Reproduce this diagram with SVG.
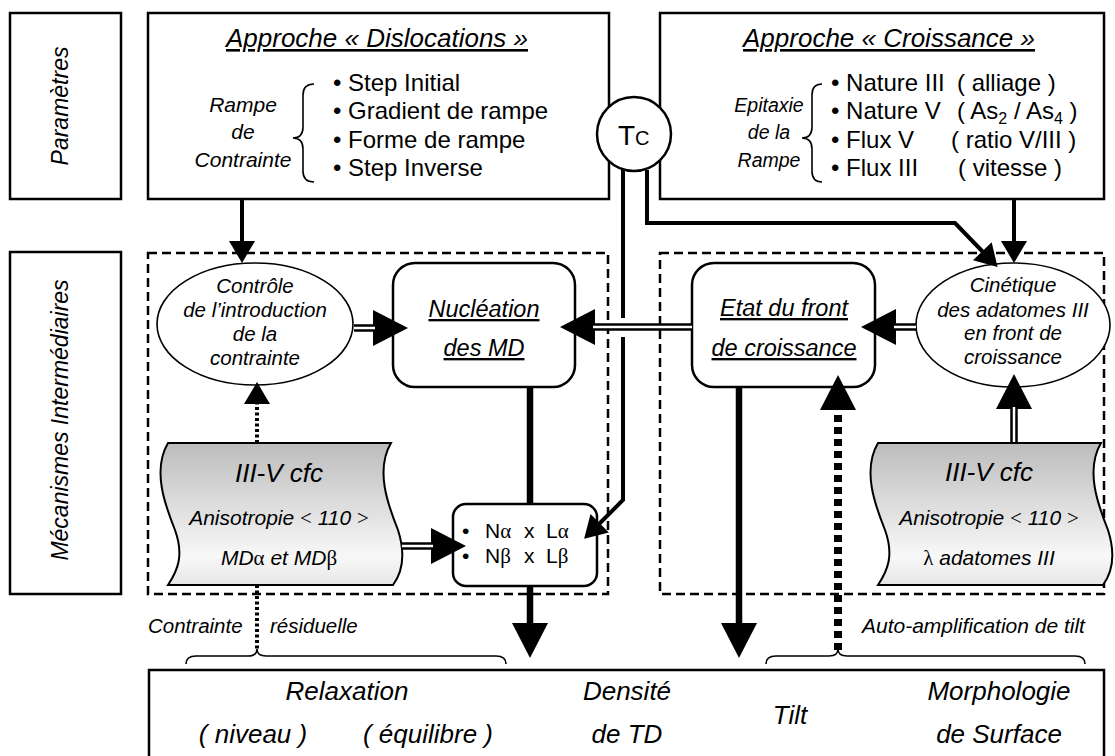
<svg xmlns="http://www.w3.org/2000/svg" width="1115" height="756" viewBox="0 0 1115 756">
<style>
text{font-family:"Liberation Sans",Arial,sans-serif;fill:#000}
.it{font-style:italic}
.box{fill:#fff;stroke:#000;stroke-width:2.5}
.dash{fill:none;stroke:#000;stroke-width:2.5;stroke-dasharray:9 5}
.ell{fill:#fff;stroke:#000;stroke-width:1.6}
.rbox{fill:#fff;stroke:#000;stroke-width:2.5}
.tape{fill:url(#gr);stroke:#000;stroke-width:2}
.brace{fill:none;stroke:#000;stroke-width:1.6}
.ln{fill:none;stroke:#000;stroke-width:4}
.thick{fill:none;stroke:#000;stroke-width:6.5}
.dbk{fill:none;stroke:#000;stroke-width:7.5}
.dwh{fill:none;stroke:#fff;stroke-width:2.5}
.dot1{fill:none;stroke:#000;stroke-width:4;stroke-dasharray:3 2.5}
.dot2{fill:none;stroke:#000;stroke-width:8;stroke-dasharray:7 5}
.gk{font-family:"Liberation Serif","Times New Roman",serif;font-style:normal}
</style>
<defs>
<linearGradient id="gr" x1="0" y1="0" x2="0" y2="1">
<stop offset="0" stop-color="#bcbcbc"/>
<stop offset="0.8" stop-color="#f8f8f8"/>
<stop offset="1" stop-color="#e6e6e6"/>
</linearGradient>
<marker id="hs" markerUnits="userSpaceOnUse" markerWidth="22" markerHeight="26" viewBox="0 0 22 26" refX="1" refY="13" orient="auto" overflow="visible"><path d="M0,0 L22,13 L0,26 z" fill="#000"/></marker>
<marker id="hb" markerUnits="userSpaceOnUse" markerWidth="35" markerHeight="36" viewBox="0 0 35 36" refX="1" refY="18" orient="auto" overflow="visible"><path d="M0,0 L35,18 L0,36 z" fill="#000"/></marker>
</defs>
<rect width="1115" height="756" fill="#fff"/>

<g id="label-parametres">
<rect class="box" x="10" y="13" width="111" height="186"/>
<text class="it" font-size="23" text-anchor="middle" transform="translate(68,106) rotate(-90)">Paramètres</text>
</g>
<g id="label-mecanismes">
<rect class="box" x="10" y="252" width="111" height="342"/>
<text class="it" font-size="23" text-anchor="middle" transform="translate(68,420) rotate(-90)">Mécanismes  Intermédiaires</text>
</g>

<g id="approche-dislocations">
<rect class="box" x="148" y="13" width="461" height="186"/>
<text class="it" font-size="26" x="377" y="47" text-anchor="middle" text-decoration="underline">Approche « Dislocations »</text>
<text class="it" font-size="21" text-anchor="middle"><tspan x="243" y="112">Rampe</tspan><tspan x="243" y="139">de</tspan><tspan x="243" y="167">Contrainte</tspan></text>
<path class="brace" d="M314,84 Q303,84 303,95 L303,127 Q303,138 293,138 Q303,138 303,149 L303,171 Q303,182 314,182"/>
<text font-size="24"><tspan x="333" y="91">• Step Initial</tspan><tspan x="333" y="119">• Gradient de rampe</tspan><tspan x="333" y="148">• Forme de rampe</tspan><tspan x="333" y="176">• Step Inverse</tspan></text>
</g>

<g id="approche-croissance">
<rect class="box" x="660" y="13" width="444" height="186"/>
<text class="it" font-size="26" x="889" y="47" text-anchor="middle" text-decoration="underline">Approche « Croissance »</text>
<text class="it" font-size="19.5" text-anchor="middle"><tspan x="769" y="112">Epitaxie</tspan><tspan x="769" y="139">de la</tspan><tspan x="769" y="167">Rampe</tspan></text>
<path class="brace" d="M822,84 Q812,84 812,95 L812,127 Q812,138 802,138 Q812,138 812,149 L812,171 Q812,182 822,182"/>
<text font-size="24"><tspan x="831" y="91">• Nature III</tspan><tspan x="831" y="119">• Nature V</tspan><tspan x="831" y="148">• Flux V</tspan><tspan x="831" y="176">• Flux III</tspan></text>
<text font-size="24"><tspan x="957" y="91">( alliage )</tspan></text>
<text font-size="24" x="957" y="119">( As<tspan font-size="16" dy="5">2</tspan><tspan dy="-5"> / As</tspan><tspan font-size="16" dy="5">4</tspan><tspan dy="-5"> )</tspan></text>
<text font-size="24"><tspan x="951" y="148">( ratio V/III )</tspan><tspan x="958" y="176">( vitesse )</tspan></text>
</g>

<g id="tc">
<circle cx="634" cy="134" r="37" fill="#fff" stroke="#000" stroke-width="2.5"/>
<text font-size="28" x="618" y="145">T<tspan font-size="20">C</tspan></text>
</g>

<g id="groupes">
<rect class="dash" x="148" y="253" width="460" height="341"/>
<rect class="dash" x="660" y="253" width="444" height="341"/>
</g>

<g id="controle">
<ellipse class="ell" cx="255" cy="324" rx="98" ry="61"/>
<text class="it" font-size="20.5" text-anchor="middle"><tspan x="255" y="293">Contrôle</tspan><tspan x="255" y="317">de l’introduction</tspan><tspan x="255" y="341">de la</tspan><tspan x="255" y="365">contrainte</tspan></text>
</g>

<g id="nucleation">
<rect class="rbox" x="393" y="263" width="182" height="124" rx="22"/>
<text class="it" font-size="23.5" text-anchor="middle" text-decoration="underline"><tspan x="484" y="317">Nucléation</tspan><tspan x="484" y="356">des MD</tspan></text>
</g>

<g id="etat-front">
<rect class="rbox" x="692" y="263" width="183" height="124" rx="22"/>
<text class="it" font-size="23.5" text-anchor="middle" text-decoration="underline"><tspan x="784" y="316">Etat du front</tspan><tspan x="784" y="356">de croissance</tspan></text>
</g>

<g id="cinetique">
<ellipse class="ell" cx="1013" cy="325" rx="97" ry="62"/>
<text class="it" font-size="20.5" text-anchor="middle"><tspan x="1013" y="292">Cinétique</tspan><tspan x="1013" y="317">des adatomes III</tspan><tspan x="1013" y="340">en front de</tspan><tspan x="1013" y="364">croissance</tspan></text>
</g>

<g id="cfc-gauche">
<path class="tape" d="M168,443 L391,443 C375,470 388,505 398,530 C405,552 404,570 393,585 L168,585 C178,570 184,555 175,530 C165,505 152,470 168,443 Z"/>
<text class="it" font-size="26" x="279" y="482" text-anchor="middle">III-V cfc</text>
<text class="it" font-size="21" x="279" y="525" text-anchor="middle">Anisotropie <tspan class="gk">&lt;</tspan> 110 <tspan class="gk">&gt;</tspan></text>
<text class="it" font-size="21" x="279" y="565" text-anchor="middle">MD<tspan class="gk">α</tspan> et MD<tspan class="gk">β</tspan></text>
</g>

<g id="cfc-droite">
<path class="tape" d="M878,443 L1101,443 C1085,470 1098,505 1108,530 C1115,552 1114,570 1103,585 L878,585 C888,570 894,555 885,530 C875,505 862,470 878,443 Z"/>
<text class="it" font-size="26" x="989" y="481" text-anchor="middle">III-V cfc</text>
<text class="it" font-size="21" x="989" y="525" text-anchor="middle">Anisotropie <tspan class="gk">&lt;</tspan> 110 <tspan class="gk">&gt;</tspan></text>
<text class="it" font-size="21" x="989" y="565" text-anchor="middle"><tspan class="gk">λ</tspan> adatomes III</text>
</g>

<g id="n-l">
<rect class="rbox" x="453" y="504" width="144" height="82" rx="13"/>
<text font-size="21" x="462" y="538">•<tspan x="485">N</tspan><tspan class="gk">α</tspan><tspan x="524">x</tspan><tspan x="546">L</tspan><tspan class="gk">α</tspan></text>
<text font-size="21" x="462" y="563">•<tspan x="485">N</tspan><tspan class="gk">β</tspan><tspan x="524">x</tspan><tspan x="546">L</tspan><tspan class="gk">β</tspan></text>
</g>

<g id="resultats">
<rect class="box" x="149" y="670" width="955" height="92"/>
<text class="it" font-size="26" text-anchor="middle"><tspan x="347" y="700">Relaxation</tspan><tspan x="253" y="743">( niveau )</tspan><tspan x="428" y="743">( équilibre )</tspan><tspan x="627" y="700">Densité</tspan><tspan x="627" y="743">de TD</tspan><tspan x="790" y="724">Tilt</tspan><tspan x="999" y="700">Morphologie</tspan><tspan x="999" y="743">de Surface</tspan></text>
</g>

<g id="annotations">
<text class="it" font-size="20.5" x="148" y="633">Contrainte</text>
<text class="it" font-size="20.5" x="270" y="633">résiduelle</text>
<text class="it" font-size="21" x="862" y="633">Auto-amplification de tilt</text>
<path class="brace" d="M186,664 Q186,656 196,656 L248,656 Q257,656 257,649 Q257,656 266,656 L496,656 Q506,656 506,664"/>
<path class="brace" d="M766,664 Q766,656 776,656 L829,656 Q838,656 838,649 Q838,656 847,656 L1075,656 Q1085,656 1085,664"/>
</g>

<g id="connecteurs">
<path class="ln" d="M242,199 L242,242" marker-end="url(#hs)"/>
<path class="ln" d="M1014,199 L1014,242" marker-end="url(#hs)"/>
<path class="ln" d="M647,170 L647,223 L955,223 L983,252" marker-end="url(#hs)"/>
<path class="ln" d="M623,170 L623,318 M623,337 L623,500 L599,524" marker-end="url(#hs)"/>
<path class="thick" d="M530,387 L530,504"/>
<path class="thick" d="M530,586 L530,624" marker-end="url(#hb)"/>
<path class="thick" d="M739,387 L739,624" marker-end="url(#hb)"/>
<path class="dot1" d="M257,585 L257,650"/>
<path class="dot1" d="M257,443 L257,403" marker-end="url(#hs)"/>
<path class="dot2" d="M838,650 L838,409" marker-end="url(#hb)"/>
<path class="dbk" d="M354,328 L374,328" marker-end="url(#hb)"/>
<path class="dwh" d="M354,328 L375,328"/>
<path class="dbk" d="M692,327 L594,327" marker-end="url(#hb)"/>
<path class="dwh" d="M692,327 L593,327"/>
<path class="dbk" d="M916,327 L895,327" marker-end="url(#hb)"/>
<path class="dwh" d="M916,327 L894,327"/>
<path class="dbk" d="M402,546 L432,546" marker-end="url(#hb)"/>
<path class="dwh" d="M402,546 L433,546"/>
<path class="dbk" d="M1014,442 L1014,408" marker-end="url(#hb)"/>
<path class="dwh" d="M1014,442 L1014,407"/>
</g>
</svg>
